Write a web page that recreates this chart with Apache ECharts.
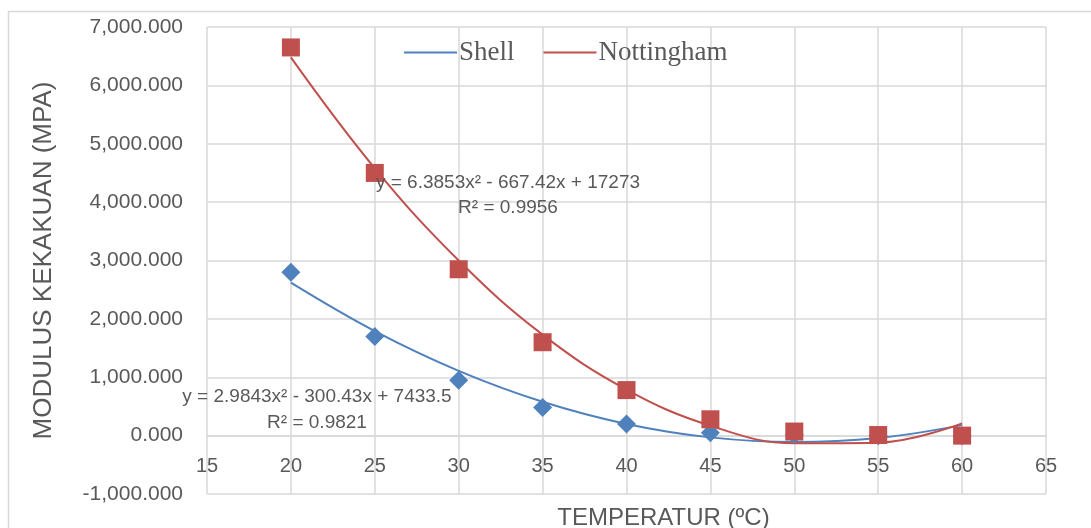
<!DOCTYPE html>
<html>
<head>
<meta charset="utf-8">
<script src="https://cdn.jsdelivr.net/npm/echarts@6/dist/echarts.min.js"></script>
<style>
  html, body { margin: 0; padding: 0; background: #fff; }
  #chart { width: 1091px; height: 528px; }
</style>
</head>
<body>
<div id="chart"></div>
<script>
// temperatures (x)
const temperature = [20, 25, 30, 35, 40, 45, 50, 55, 60]
// measured stiffness modulus (MPa)
const shellValues = [2800, 1700, 950, 480, 200, 50, 20, 0, 0]
const nottinghamValues = [6650, 4500, 2850, 1600, 780, 280, 70, 10, 0]
// trend curves
const shellTrend = [2620, 1790, 1110, 580, 200, -30, -110, -40, 180]
const nottinghamTrend = [6480, 4580, 3000, 1730, 790, 170, -130, -120, 210]

const shellEq = 'y = 2.9843x² - 300.43x + 7433.5'
const shellR2 = 'R² = 0.9821'
const nottEq = 'y = 6.3853x² - 667.42x + 17273'
const nottR2 = 'R² = 0.9956'

const blue = '#4f81bd'
const red = '#c0504d'
const textColor = '#595959'
const gridColor = '#d9d9d9'

function pairs (xs, ys) {
  return xs.map((x, i) => [x, ys[i]])
}

const chart = echarts.init(document.getElementById('chart'))

// the x axis sits on the zero line: one y step (1000) above the bottom of the plot
const plotHeight = 528 - 27 - 34
const zeroOffset = -plotHeight / 8

const option = {
  animation: false,
  backgroundColor: '#fff',
  grid: { left: 207, right: 45, top: 27, bottom: 34, containLabel: false, outerBoundsMode: 'none' },
  legend: {
    left: 399,
    top: 34,
    itemWidth: 53,
    itemHeight: 2,
    itemGap: 29,
    icon: 'rect',
    textStyle: { fontFamily: 'Liberation Serif', fontSize: 27, color: textColor, padding: [0, 0, 0, -3] },
    data: [
      { name: 'Shell', itemStyle: { color: blue } },
      { name: 'Nottingham', itemStyle: { color: red } }
    ]
  },
  xAxis: {
    type: 'value',
    min: 15,
    max: 65,
    interval: 5,
    offset: zeroOffset,
    name: 'TEMPERATUR (ºC)',
    nameLocation: 'middle',
    nameGap: 71,
    nameTextStyle: { fontFamily: 'Liberation Sans', fontSize: 24, color: textColor, padding: [0, 0, 0, 74] },
    axisLine: { onZero: false, lineStyle: { color: gridColor, width: 1.5 } },
    axisTick: { show: false },
    axisLabel: { fontFamily: 'Liberation Sans', fontSize: 20, color: textColor, margin: 21 },
    splitLine: { show: true, lineStyle: { color: gridColor, width: 1.5 } }
  },
  yAxis: {
    type: 'value',
    min: -1000,
    max: 7000,
    interval: 1000,
    name: 'MODULUS KEKAKUAN (MPA)',
    nameLocation: 'middle',
    nameGap: 150,
    nameTextStyle: { fontFamily: 'Liberation Sans', fontSize: 26, color: textColor },
    axisLine: { show: false, onZero: false },
    axisTick: { show: false },
    axisLabel: {
      fontFamily: 'Liberation Sans',
      fontSize: 21,
      color: textColor,
      margin: 24,
      formatter: v => v.toLocaleString('en-US', { minimumFractionDigits: 3, maximumFractionDigits: 3 })
    },
    splitLine: { lineStyle: { color: gridColor, width: 1.5 } }
  },
  series: [
    {
      name: 'Shell trend',
      type: 'line',
      smooth: 0.4,
      showSymbol: false,
      data: pairs(temperature, shellTrend),
      lineStyle: { color: blue, width: 2 },
      silent: true,
      z: 2
    },
    {
      name: 'Nottingham trend',
      type: 'line',
      smooth: 0.4,
      showSymbol: false,
      data: pairs(temperature, nottinghamTrend),
      lineStyle: { color: red, width: 2 },
      silent: true,
      z: 2
    },
    {
      name: 'Shell',
      type: 'scatter',
      symbol: 'diamond',
      symbolSize: 19,
      itemStyle: { color: blue, opacity: 1 },
      data: pairs(temperature, shellValues),
      z: 3
    },
    {
      name: 'Nottingham',
      type: 'scatter',
      symbol: 'rect',
      symbolSize: 18,
      itemStyle: { color: red, opacity: 1 },
      data: pairs(temperature, nottinghamValues),
      z: 4
    }
  ],
  graphic: [
    {
      type: 'rect',
      shape: { x: 8.5, y: 11.5, width: 1200, height: 700 },
      style: { fill: 'none', stroke: gridColor, lineWidth: 1.5 },
      silent: true
    },
    {
      type: 'text', x: 508, y: 183, z: 10,
      style: { text: nottEq, fill: textColor, font: '19px "Liberation Sans"', align: 'center', verticalAlign: 'middle' }
    },
    {
      type: 'text', x: 508, y: 208, z: 10,
      style: { text: nottR2, fill: textColor, font: '19px "Liberation Sans"', align: 'center', verticalAlign: 'middle' }
    },
    {
      type: 'text', x: 317, y: 397, z: 10,
      style: { text: shellEq, fill: textColor, font: '19px "Liberation Sans"', align: 'center', verticalAlign: 'middle' }
    },
    {
      type: 'text', x: 317, y: 423, z: 10,
      style: { text: shellR2, fill: textColor, font: '19px "Liberation Sans"', align: 'center', verticalAlign: 'middle' }
    }
  ]
}

chart.setOption(option)
</script>
</body>
</html>
